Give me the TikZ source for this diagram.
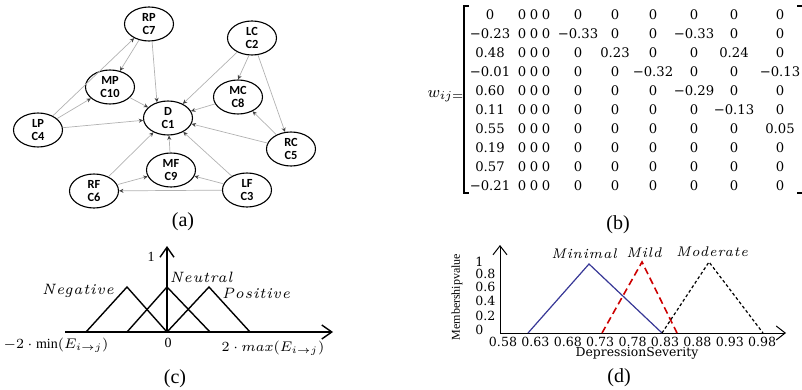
\documentclass[tikz,border=0pt]{standalone}
\usepackage{fontspec}
\setmainfont{Liberation Serif}
\newfontfamily\nodefont{Carlito}
\newfontfamily\lsit[LetterSpace=6]{Latin Modern Roman}
\newfontfamily\dvs{DejaVu Serif}
\usetikzlibrary{shapes.geometric,arrows.meta}
\tikzset{
  ell/.style={ellipse, draw, line width=0.55pt, minimum width=24.5pt, minimum height=17pt,
    inner sep=0pt, align=center, font=\nodefont\bfseries\fontsize{6.2}{6.2}\selectfont},
  ed/.style={draw=black!30, line width=0.35pt, -{Stealth[length=2.2pt,width=2pt,color=black!75]}},
  captxt/.style={font=\fontsize{10}{12}\selectfont},
  mat/.style={font=\dvs\fontsize{6.6}{7}\selectfont, inner sep=0pt},
  axc/.style={line width=0.7pt, -{Straight Barb[length=5pt,width=7pt]}},
  axd/.style={line width=0.5pt, -{Straight Barb[length=4.5pt,width=7pt]}},
  lbl/.style={font=\fontsize{7}{8}\selectfont, inner sep=0pt},
  itl/.style={font=\lsit\itshape\fontsize{7.5}{8}\selectfont, inner sep=0pt},
  itd/.style={font=\lsit\itshape\fontsize{7}{8}\selectfont, inner sep=0pt},
  tick/.style={font=\dvs\fontsize{6.3}{7}\selectfont, inner sep=0pt}
}
\begin{document}
\begin{tikzpicture}[x=0.5pt,y=-0.5pt]
\useasboundingbox (0,0) rectangle (802,390);
% ---------- (a) ----------
\node[ell] (rp) at (149,24)  {RP\\C7};
\node[ell] (lc) at (252,38)  {LC\\C2};
\node[ell] (mp) at (110,87)  {MP\\C10};
\node[ell] (mc) at (238,97)  {MC\\C8};
\node[ell] (d)  at (168,118) {D\\C1};
\node[ell] (lp) at (38,130)  {LP\\C4};
\node[ell] (rc) at (291,149) {RC\\C5};
\node[ell] (mf) at (171,170) {MF\\C9};
\node[ell] (rf) at (94,191)  {RF\\C6};
\node[ell] (lf) at (247,190) {LF\\C3};
\draw[ed] (lp) -- (rp);
\draw[ed] (rp) -- (mp);
\draw[ed] (rp.-80) -- (d.125);
\draw[ed] (lp) -- (mp);
\draw[ed] (lp) -- (d);
\draw[ed] (mp) -- (d);
\draw[ed] (lc) -- (d);
\draw[ed] (lc.-100) -- (mc.90);
\draw[ed] (lc) -- (rc);
\draw[ed] (mc) -- (d);
\draw[ed] (rc) -- (mc);
\draw[ed] (rc) -- (d);
\draw[ed] (mf) -- (d);
\draw[ed] (rf) -- (d);
\draw[ed] (lf) -- (d);
\draw[ed] (rf) -- (mf);
\draw[ed] (lf) -- (mf);
\draw[ed] (lf) -- (rf);
\node[captxt] (capa) at (183,222) {(a)};
% ---------- (b) ----------
\node[font=\fontsize{8.5}{9}\selectfont, inner sep=0pt] (w) at (446,96) {$w_{ij=}$};
\coordinate (bt) at (464,6);
\coordinate (bb) at (464,193);
\draw[line width=0.6pt] ([xshift=2.5pt]bt) -- (bt) -- (bb) -- ([xshift=2.5pt]bb);
\coordinate (ct) at (802,6);
\coordinate (cb) at (802,193);
\draw[line width=0.6pt] ([xshift=-2.5pt]ct) -- (ct);
\draw[line width=0.6pt] ([xshift=-2.5pt]cb) -- (cb);
\foreach \row [count=\r from 0] in {
 {0,0,0,0,0,0,0,0,0,0},
 {−0.23,0,0,0,−0.33,0,0,−0.33,0,0},
 {0.48,0,0,0,0,0.23,0,0,0.24,0},
 {−0.01,0,0,0,0,0,−0.32,0,0,−0.13},
 {0.60,0,0,0,0,0,0,−0.29,0,0},
 {0.11,0,0,0,0,0,0,0,−0.13,0},
 {0.55,0,0,0,0,0,0,0,0,0.05},
 {0.19,0,0,0,0,0,0,0,0,0},
 {0.57,0,0,0,0,0,0,0,0,0},
 {−0.21,0,0,0,0,0,0,0,0,0}} {
  \foreach \v [count=\c from 1] in \row {
    \pgfmathsetmacro{\cx}{{0,490,522,534,546,578,615,653,694,734,780}[\c]}
    \node[mat] (m-\r-\c) at (\cx, 15+19*\r) {\v};
  }
}
\node[captxt] (capb) at (618,225) {(b)};
% ---------- (c) ----------
\coordinate (o) at (167,332);
\coordinate (xe) at (333,332);
\coordinate (ye) at (167,246);
\coordinate (xs) at (65,332);
\draw[axc] (xs) -- (xe);
\draw[axc] (o) -- (ye);
\draw[line width=0.7pt] (86,332) -- (127,287) -- (167,332);
\draw[line width=0.7pt] (127,332) -- (167,287) -- (210,332);
\draw[line width=0.7pt] (167,332) -- (209,287) -- (250,332);
\node[lbl] (one) at (151,257) {1};
\node[itl] (neg) at (78,291) {Negative};
\node[itl] (neu) at (201,277) {Neutral};
\node[itl] (pos) at (256,293) {Positive};
\node[lbl] (mn) at (56,345) {$-2\cdot\min(E_{i\rightarrow j})$};
\node[lbl] (zero) at (168,343) {0};
\node[lbl] (mx) at (273,348) {$2\cdot max(E_{i\rightarrow j})$};
\node[captxt] (capc) at (175,379) {(c)};
% ---------- (d) ----------
\coordinate (od) at (500,333);
\draw[axd] (od) -- (500,245);
\draw[axd] (od) -- (786,333);
\draw[line width=0.6pt, draw={rgb,255:red,55;green,55;blue,150}] (528,333) -- (589,264) -- (662,333);
\draw[line width=0.8pt, draw={rgb,255:red,205;green,0;blue,0}, dash pattern=on 3.5pt off 2pt] (602,333) -- (642,262) -- (677,333);
\draw[line width=0.6pt, dash pattern=on 1.5pt off 1.2pt] (662,333) -- (709,262) -- (763,333);
\node[itd] (lmin) at (584,254) {Minimal};
\node[itd] (lmild) at (644,253) {Mild};
\node[itd] (lmod) at (712,252) {Moderate};
\foreach \t/\yy in {1/262,0.8/274,0.6/287,0.4/301,0.2/316,0/330}
  \node[tick, anchor=west] at (475,\yy) {\t};
\foreach \t [count=\i from 0] in {0.58,0.63,0.68,0.73,0.78,0.83,0.88,0.93,0.98}
  \node[tick] at (503+32.4*\i,342) {\t};
\node[font=\dvs\fontsize{6.2}{7}\selectfont, inner sep=0pt] (xl) at (637,353) {DepressionSeverity};
\node[font=\fontsize{6}{7}\selectfont, inner sep=0pt, rotate=90] (yl) at (457,297) {Membershipvalue};
\node[captxt] (capd) at (619,378) {(d)};
\end{tikzpicture}
\end{document}
